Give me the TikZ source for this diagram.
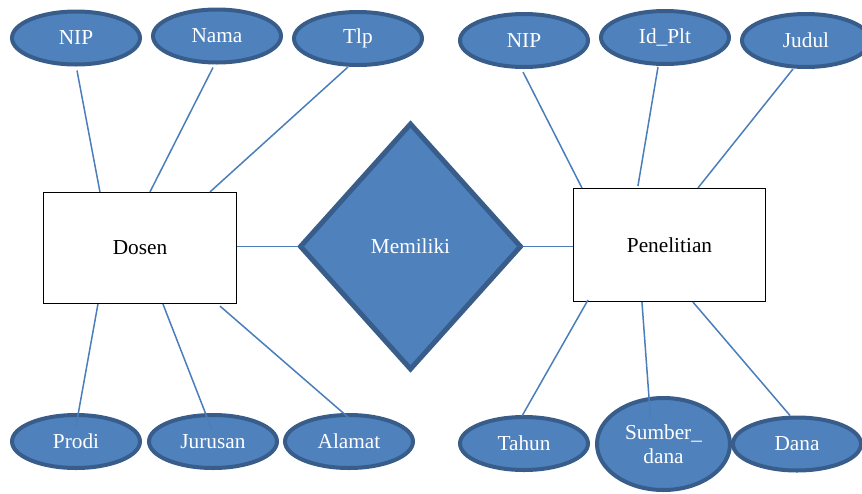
\documentclass[tikz,border=0pt]{standalone}
\usepackage{fontspec}
\setmainfont{Liberation Serif}
\usetikzlibrary{shapes.geometric,calc}

\definecolor{attrfill}{HTML}{4F81BD}
\definecolor{attrline}{HTML}{385D8A}
\definecolor{linkblue}{HTML}{4A7EBB}

\tikzset{
  attr/.style={ellipse, draw=attrline, line width=4pt, fill=attrfill,
    text=white, inner sep=0pt, minimum width=128pt, minimum height=53pt,
    font=\fontsize{21.3}{24}\selectfont},
  entity/.style={rectangle, draw=black, line width=1.1pt, fill=white,
    inner sep=0pt, font=\fontsize{21.3}{24}\selectfont},
  rel/.style={diamond, draw=attrline, line width=5pt, fill=attrfill,
    text=white, inner sep=0pt, minimum width=222pt, minimum height=247pt,
    font=\fontsize{21.3}{24}\selectfont},
  conn/.style={draw=linkblue, line width=1.5pt},
}

\begin{document}
\begin{tikzpicture}[x=1pt,y=-1pt]
\useasboundingbox (0,0) rectangle (862,493);

% entities and relationship
\node[entity, minimum width=193pt, minimum height=111pt] (dosen) at (140,248) {Dosen};
\node[entity, minimum width=192pt, minimum height=113pt] (penelitian) at (669.5,245) {Penelitian};
\node[rel] (memiliki) at (410.5,246.5) {Memiliki};

% attributes of Dosen
\node[attr] (nipA) at (76,38) {NIP};
\node[attr] (nama) at (217,36) {Nama};
\node[attr] (tlp) at (358,38.5) {Tlp};
\node[attr] (prodi) at (76,441.5) {Prodi};
\node[attr] (jurusan) at (213,441.5) {Jurusan};
\node[attr] (alamat) at (349,441.5) {Alamat};

% attributes of Penelitian
\node[attr] (nipB) at (524,40.5) {NIP};
\node[attr] (idplt) at (665,37.5) {Id\_Plt};
\node[attr] (judul) at (806,40.5) {Judul};
\node[attr] (tahun) at (524,443.5) {Tahun};
\node[attr, minimum width=133pt, minimum height=92pt, align=center] (sumber) at (663.5,444) {\raisebox{-2pt}{Sumber\_}\\\raisebox{-2pt}{dana}};
\node[attr] (dana) at (797,444) {Dana};

% relationship links
\draw[conn] (dosen.east |- memiliki.west) -- (memiliki.west);
\draw[conn] (memiliki.east) -- (penelitian.west |- memiliki.east);
\draw[conn, opacity=.2] (memiliki.west) -- ++(52,0);
\draw[conn, opacity=.2] (memiliki.east) -- ++(-65,0);

% Dosen attribute links
\draw[conn] ($(nipA.south)+(1,4)$) -- ($(dosen.north west)+(57,0)$);
\draw[conn] ($(nama.south)+(-4,3)$) -- ($(dosen.north west)+(107,0)$);
\draw[conn] ($(tlp.south)+(-10,0)$) -- ($(dosen.north west)+(167,0)$);
\draw[conn] ($(dosen.south west)+(55,0)$) -- ($(prodi.north)+(0,13)$);
\draw[conn] ($(dosen.south west)+(120,0)$) -- ($(jurusan.north)+(-1,17)$);
\draw[conn] ($(dosen.south west)+(177,2)$) -- ($(alamat.north)+(0,5)$);

% Penelitian attribute links
\draw[conn] ($(nipB.south)+(-1,3)$) -- ($(penelitian.north west)+(9,0)$);
\draw[conn] ($(idplt.south)+(-7,1)$) -- ($(penelitian.north west)+(65,-2)$);
\draw[conn] ($(judul.south)+(-13,0)$) -- ($(penelitian.north west)+(125,0)$);
\draw[conn] ($(penelitian.south west)+(15,-2)$) -- ($(tahun.north)+(-2,1)$);
\draw[conn] ($(penelitian.south west)+(69,0)$) -- ($(sumber.center)+(-13,-26)$);
\draw[conn] ($(penelitian.south west)+(120,0)$) -- ($(dana.north)+(-7,0)$);
\end{tikzpicture}
\end{document}
